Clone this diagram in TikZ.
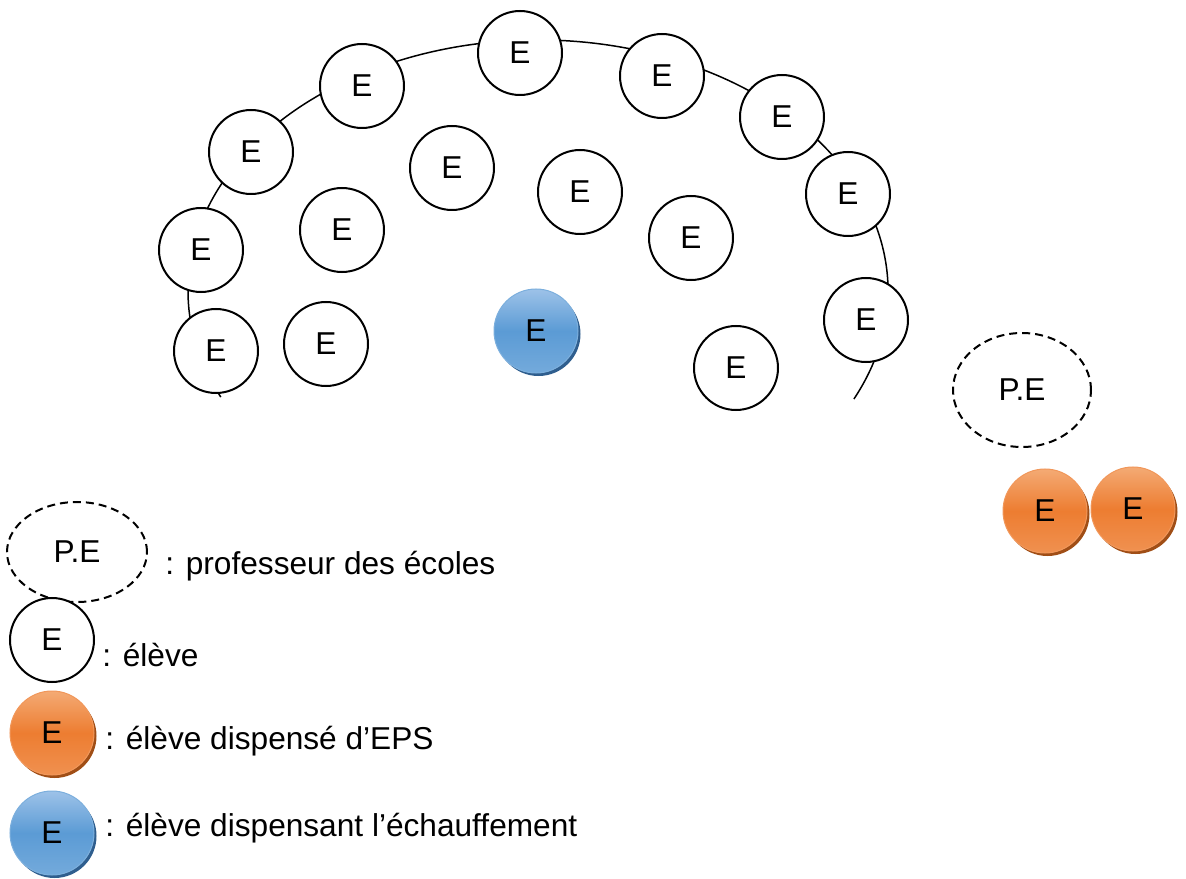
\documentclass[tikz,border=0pt]{standalone}
\usepackage{fontspec}
\setmainfont{Liberation Sans}
\usetikzlibrary{shapes.geometric, shadows}

\definecolor{epsorange}{HTML}{ED7D31}
\definecolor{epsorangelight}{HTML}{F4AA74}
\definecolor{epsorangedark}{HTML}{A04E16}
\definecolor{chauffblue}{HTML}{5B9BD5}
\definecolor{chauffbluelight}{HTML}{9DC2E8}
\definecolor{chauffbluedark}{HTML}{2F5E8E}

\tikzset{
  eleve/.style={circle, draw, fill=white, line width=0.4mm, minimum size=16.8mm,
    inner sep=0pt, font=\fontsize{18}{20}\selectfont},
  dispense/.style={eleve, draw=epsorange!80!white, line width=0.2mm,
    top color=epsorangelight, bottom color=epsorange!85!white, middle color=epsorange,
    general shadow={fill=epsorangedark, shadow xshift=0.5mm, shadow yshift=-0.6mm}},
  echauffe/.style={eleve, draw=chauffblue!80!white, line width=0.2mm,
    top color=chauffbluelight, bottom color=chauffblue!85!white, middle color=chauffblue,
    general shadow={fill=chauffbluedark, shadow xshift=0.5mm, shadow yshift=-0.6mm}},
  prof/.style={ellipse, draw, dashed, dash pattern=on 1.6mm off 1mm, line width=0.4mm,
    inner sep=0pt, font=\fontsize{18}{20}\selectfont},
  legende/.style={anchor=west, inner sep=0pt, font=\fontsize{18}{20}\selectfont}
}

\begin{document}
\begin{tikzpicture}[x=0.2mm, y=0.2mm]
  \useasboundingbox (0,0) rectangle (1186,878);

% le cercle des eleves
\coordinate (arene) at (538,587);
\draw [line width=0.3mm] ([shift={(-25.5:350 and 251)}]arene)
  arc [start angle=-25.5, end angle=205, x radius=350, y radius=251];

\node [eleve] (e1)  at (520,825) {E};
\node [eleve] (e2)  at (362,792) {E};
\node [eleve] (e3)  at (662,802) {E};
\node [eleve] (e4)  at (251,726) {E};
\node [eleve] (e5)  at (782,761) {E};
\node [eleve] (e6)  at (452,710) {E};
\node [eleve] (e7)  at (580,686) {E};
\node [eleve] (e8)  at (342,648) {E};
\node [eleve] (e9)  at (848,684) {E};
\node [eleve] (e10) at (201,628) {E};
\node [eleve] (e11) at (691,640) {E};
\node [eleve] (e12) at (216,527) {E};
\node [eleve] (e13) at (326,534) {E};
\node [eleve] (e14) at (866,558) {E};
\node [eleve] (e15) at (736,510) {E};

\node [echauffe] (chauffe) at (536,547) {E};

\node [prof, minimum width=27.6mm, minimum height=22.8mm] (pe) at (1022,488) {P.E};
\node [dispense] (disp1) at (1045,367) {E};
\node [dispense] (disp2) at (1133,369) {E};

% legende
\node [prof, minimum width=28mm, minimum height=20mm] (legpe) at (77,326) {P.E};
\node [legende] (txtpe) at (165,312) {: professeur des écoles};
\node [eleve] (legeleve) at (52,238) {E};
\node [legende] (txteleve) at (102,223) {: élève};
\node [dispense] (legdisp) at (52,145) {E};
\node [legende] (txtdisp) at (105,137) {: élève dispensé d’EPS};
\node [echauffe] (legchauffe) at (52,45) {E};
\node [legende] (txtchauffe) at (105,50) {: élève dispensant l’échauffement};
\end{tikzpicture}
\end{document}
